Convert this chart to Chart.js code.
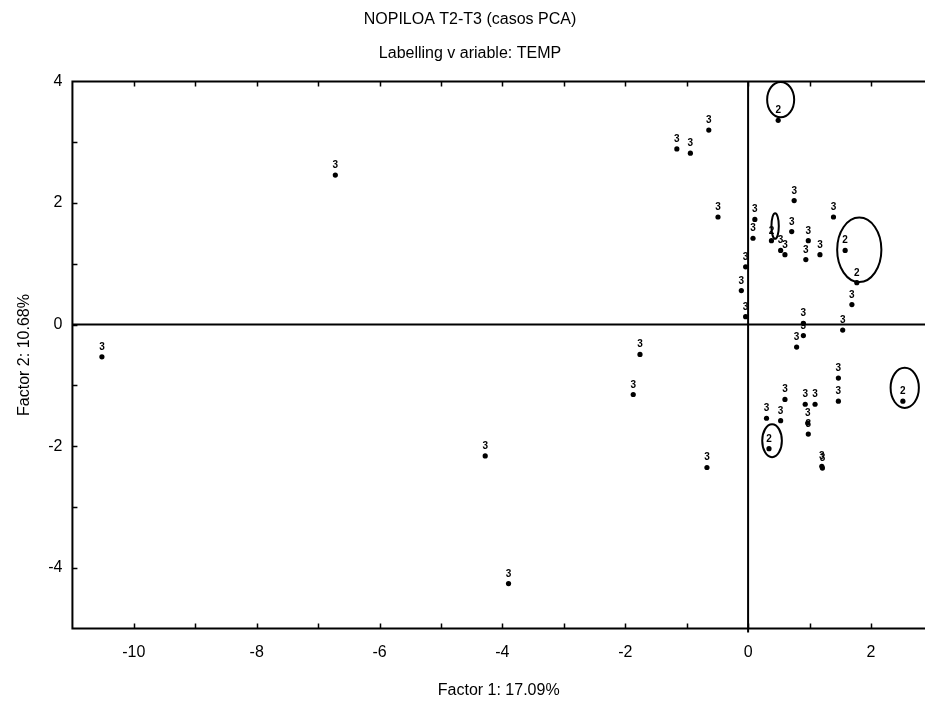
<!DOCTYPE html>
<html>
<head>
<meta charset="utf-8">
<script src="https://cdn.jsdelivr.net/npm/chart.js@4"></script>
<style>
  html, body { margin: 0; padding: 0; background: #fff; overflow: hidden; }
  canvas { display: block; }
</style>
</head>
<body>
<canvas id="c" width="925" height="704"></canvas>
<script>
// Case scores on the first two principal factors, labelled by TEMP
const factor1 = [-10.52, -6.72, -4.28, -3.90, -1.87, -1.76, -1.16, -0.94, -0.64, -0.67,
                 -0.49, -0.11, -0.04, -0.04, 0.08, 0.11, 0.30, 0.34, 0.38, 0.49,
                 0.53, 0.53, 0.60, 0.60, 0.71, 0.75, 0.79, 0.90, 0.90, 0.94,
                 0.93, 0.97, 0.98, 0.98, 1.09, 1.17, 1.20, 1.21, 1.39, 1.47,
                 1.47, 1.54, 1.58, 1.69, 1.77, 2.52];
const factor2 = [-0.53, 2.46, -2.16, -4.26, -1.15, -0.49, 2.89, 2.82, 3.20, -2.35,
                 1.77, 0.56, 0.95, 0.13, 1.42, 1.73, -1.54, -2.04, 1.38, 3.36,
                 1.22, -1.58, 1.15, -1.23, 1.53, 2.04, -0.37, -0.18, 0.02, 1.07,
                 -1.31, -1.62, -1.80, 1.38, -1.31, 1.15, -2.33, -2.36, 1.77, -0.88,
                 -1.26, -0.09, 1.22, 0.33, 0.69, -1.26];
const tempLabels = ['3', '3', '3', '3', '3', '3', '3', '3', '3', '3',
                    '3', '3', '3', '3', '3', '3', '3', '2', '2', '2',
                    '3', '3', '3', '3', '3', '3', '3', '3', '3', '3',
                    '3', '3', '3', '3', '3', '3', '3', '3', '3', '3',
                    '3', '3', '2', '3', '2', '2'];

// Axis tick positions (every unit) and the ones that carry a label
const xTickValues = [-11, -10, -9, -8, -7, -6, -5, -4, -3, -2, -1, 0, 1, 2];
const yTickValues = [-5, -4, -3, -2, -1, 0, 1, 2, 3, 4];
const xTickLabels = [-10, -8, -6, -4, -2, 0, 2];
const yTickLabels = [-4, -2, 0, 2, 4];

// Ellipses circling the TEMP = 2 cases (centre and half-axes in factor units)
const ringCx = [0.53, 0.44, 1.81, 2.55, 0.39];
const ringCy = [3.70, 1.62, 1.23, -1.04, -1.91];
const ringRx = [0.22, 0.06, 0.36, 0.23, 0.16];
const ringRy = [0.29, 0.21, 0.53, 0.33, 0.27];

const points = factor1.map((v, i) => ({ x: v, y: factor2[i] }));
const FONT = "'Liberation Sans', Arial, sans-serif";

// Frame, zero lines and inward tick marks
const framePlugin = {
  id: 'frame',
  beforeDatasetsDraw(chart) {
    const { ctx, chartArea: a, scales: { x, y } } = chart;
    ctx.save();
    ctx.strokeStyle = '#000';
    ctx.lineWidth = 2;
    const x0 = x.getPixelForValue(0);
    const y0 = y.getPixelForValue(0);
    ctx.beginPath();
    ctx.moveTo(x0, a.top); ctx.lineTo(x0, a.bottom + 4);
    ctx.moveTo(a.left, y0); ctx.lineTo(a.right, y0);
    ctx.stroke();
    ctx.beginPath();
    ctx.moveTo(a.right + 2, a.top); ctx.lineTo(a.left, a.top);
    ctx.lineTo(a.left, a.bottom); ctx.lineTo(a.right + 2, a.bottom);
    ctx.stroke();
    ctx.lineWidth = 1.5;
    ctx.beginPath();
    x.ticks.forEach(t => {
      if (t.value <= x.min || t.value >= x.max) return;
      const px = Math.round(x.getPixelForValue(t.value)) + 0.5;
      ctx.moveTo(px, a.bottom); ctx.lineTo(px, a.bottom - 5);
      ctx.moveTo(px, a.top); ctx.lineTo(px, a.top + 5);
    });
    y.ticks.forEach(t => {
      if (t.value <= y.min || t.value >= y.max) return;
      const py = Math.round(y.getPixelForValue(t.value)) + 0.5;
      ctx.moveTo(a.left, py); ctx.lineTo(a.left + 5, py);
    });
    ctx.stroke();
    ctx.restore();
  },
  afterDatasetsDraw(chart) {
    const { ctx, scales: { x, y } } = chart;
    ctx.save();
    // point labels
    const meta = chart.getDatasetMeta(0);
    ctx.fillStyle = '#000';
    ctx.font = 'bold 10px ' + FONT;
    ctx.textAlign = 'center';
    ctx.textBaseline = 'alphabetic';
    meta.data.forEach((el, i) => {
      ctx.fillText(tempLabels[i], el.x, el.y - 7);
    });
    // rings
    ctx.strokeStyle = '#000';
    ctx.lineWidth = 2;
    ringCx.forEach((cx, i) => {
      const px = x.getPixelForValue(cx);
      const py = y.getPixelForValue(ringCy[i]);
      const rx = Math.abs(x.getPixelForValue(cx + ringRx[i]) - px);
      const ry = Math.abs(y.getPixelForValue(ringCy[i] + ringRy[i]) - py);
      ctx.beginPath();
      ctx.ellipse(px, py, rx, ry, 0, 0, Math.PI * 2);
      ctx.stroke();
    });
    ctx.restore();
  }
};

new Chart(document.getElementById('c'), {
  type: 'scatter',
  data: {
    datasets: [{
      data: points,
      pointRadius: 2.6,
      pointBackgroundColor: '#000',
      pointBorderWidth: 0
    }]
  },
  options: {
    responsive: false,
    animation: false,
    layout: { autoPadding: false, padding: { left: 15, right: 0, top: 0, bottom: 2 } },
    plugins: {
      legend: { display: false },
      tooltip: { enabled: false },
      title: {
        display: true,
        text: 'NOPILOA T2-T3 (casos PCA)',
        color: '#000',
        font: { family: FONT, size: 16, weight: 'normal' },
        padding: { top: 10, bottom: 15 }
      },
      subtitle: {
        display: true,
        text: 'Labelling v ariable: TEMP',
        color: '#000',
        font: { family: FONT, size: 16, weight: 'normal' },
        padding: { top: 0, bottom: 18 }
      }
    },
    scales: {
      x: {
        type: 'linear',
        min: -11,
        max: 2.88,
        grid: { display: false, drawTicks: false },
        border: { display: false },
        afterBuildTicks: s => { s.ticks = xTickValues.map(v => ({ value: v })); },
        ticks: {
          padding: 14,
          color: '#000',
          font: { family: FONT, size: 16 },
          autoSkip: false,
          maxRotation: 0,
          callback: v => xTickLabels.includes(v) ? String(v) : ''
        },
        title: {
          display: true,
          text: 'Factor 1: 17.09%',
          color: '#000',
          font: { family: FONT, size: 16 },
          padding: { top: 5, bottom: 2 }
        }
      },
      y: {
        type: 'linear',
        min: -5,
        max: 4,
        grid: { display: false, drawTicks: false },
        border: { display: false },
        afterBuildTicks: s => { s.ticks = yTickValues.map(v => ({ value: v })); },
        ticks: {
          padding: 10,
          color: '#000',
          font: { family: FONT, size: 16 },
          autoSkip: false,
          callback: v => yTickLabels.includes(v) ? String(v) : ''
        },
        title: {
          display: true,
          text: 'Factor 2: 10.68%',
          color: '#000',
          font: { family: FONT, size: 16 },
          padding: { top: 0, bottom: 4 }
        }
      }
    }
  },
  plugins: [framePlugin]
});
</script>
</body>
</html>
